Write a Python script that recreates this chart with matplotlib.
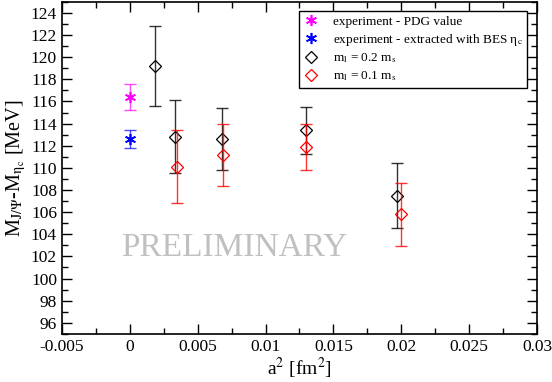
import matplotlib
matplotlib.use("Agg")
import matplotlib.pyplot as plt
from matplotlib.ticker import MultipleLocator, FuncFormatter

plt.rcParams['font.family'] = ['Liberation Serif', 'DejaVu Serif']
plt.rcParams['mathtext.fontset'] = 'stix'

# experiment points (at a^2 = 0)
pdg_x = [0.0]
pdg_y = [116.4]
pdg_err = [1.2]

bes_x = [0.0]
bes_y = [112.6]
bes_err = [0.8]

# lattice, m_l = 0.2 m_s
heavy_x = [0.00187, 0.00337, 0.00679, 0.0130, 0.0197]
heavy_y = [119.2, 112.8, 112.6, 113.4, 107.5]
heavy_err = [3.6, 3.3, 2.8, 2.1, 2.9]

# lattice, m_l = 0.1 m_s
light_x = [0.00348, 0.00688, 0.0130, 0.0200]
light_y = [110.1, 111.2, 111.9, 105.8]
light_err = [3.3, 2.8, 2.1, 2.85]

fig = plt.figure(figsize=(5.52, 3.82), dpi=100)
ax = fig.add_axes([0.112, 0.126, 0.861, 0.869])

ast = (6, 2, 0)
ax.errorbar(pdg_x, pdg_y, yerr=pdg_err, fmt='none', ecolor='magenta', elinewidth=1, capsize=4.5, alpha=0.7)
ax.plot(pdg_x, pdg_y, ls='none', marker=ast, ms=8, mec='magenta', mew=1.2,
        label='experiment - PDG value')
ax.errorbar(bes_x, bes_y, yerr=bes_err, fmt='none', ecolor='blue', elinewidth=1, capsize=4.5, alpha=0.7)
ax.plot(bes_x, bes_y, ls='none', marker=ast, ms=8, mec='blue', mew=1.2,
        label=r'experiment - extracted with BES η$_\mathrm{c}$')

ax.errorbar(heavy_x, heavy_y, yerr=heavy_err, fmt='none', ecolor='black', elinewidth=1, capsize=4.5, alpha=0.8)
ax.plot(heavy_x, heavy_y, ls='none', marker='D', ms=6, mfc='none', mec='black', mew=0.9,
        label=r'm$_\mathrm{l}$ = 0.2 m$_\mathrm{s}$')
ax.errorbar(light_x, light_y, yerr=light_err, fmt='none', ecolor='red', elinewidth=1, capsize=4.5, alpha=0.8)
ax.plot(light_x, light_y, ls='none', marker='D', ms=6, mfc='none', mec='red', mew=0.9,
        label=r'm$_\mathrm{l}$ = 0.1 m$_\mathrm{s}$')

ax.text(0.0077, 102.8, 'PRELIMINARY', color='#c0c0c0', fontsize=24,
        ha='center', va='center')

ax.set_xlim(-0.005, 0.03)
ax.set_ylim(95, 125)
ax.xaxis.set_major_locator(MultipleLocator(0.005))
ax.xaxis.set_minor_locator(MultipleLocator(0.0025))
ax.yaxis.set_major_locator(MultipleLocator(2))
ax.yaxis.set_minor_locator(MultipleLocator(1))
ax.xaxis.set_major_formatter(FuncFormatter(lambda v, p: '%g' % round(v, 4)))
ax.tick_params(which='both', direction='in', top=True, right=True, labelsize=12.5)
ax.tick_params(which='major', length=7, width=1)
ax.tick_params(which='minor', length=4, width=1)
for s in ax.spines.values():
    s.set_linewidth(1.2)

ax.set_xlabel(r'a$^\mathrm{2}$ [fm$^\mathrm{2}$]', fontsize=14, labelpad=1)
ax.set_ylabel(r'M$_\mathrm{J/Ψ}$-M$_{\mathrm{η}_\mathrm{c}}$ [MeV]', fontsize=14.5, labelpad=2)

leg = ax.legend(loc='upper right', bbox_to_anchor=(0.979, 0.973), borderaxespad=0,
                fontsize=9.5, frameon=True, fancybox=False, edgecolor='black',
                framealpha=1, handlelength=1.2, handletextpad=1.0,
                labelspacing=0.3, borderpad=0.35)
leg.get_frame().set_linewidth(1)

fig.savefig('out.png', dpi=100)
